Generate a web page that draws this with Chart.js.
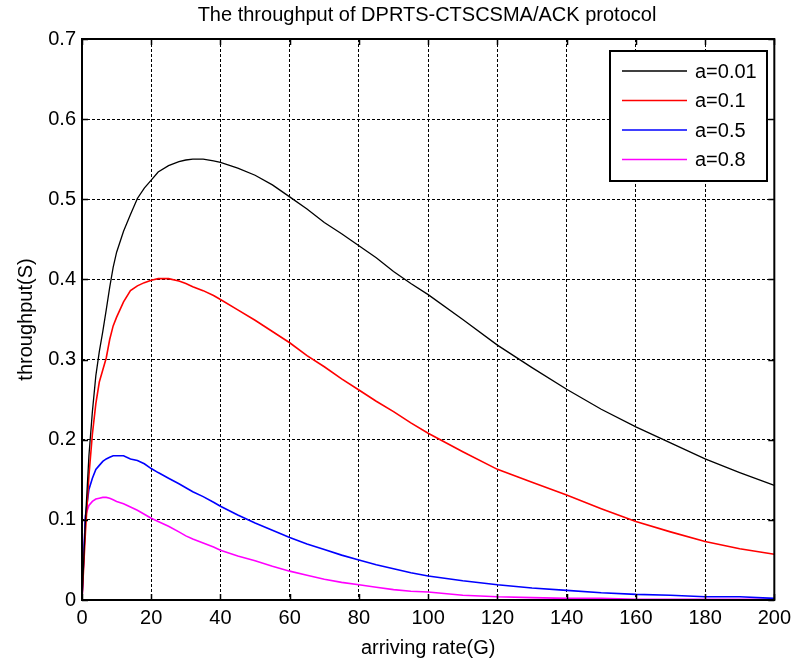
<!DOCTYPE html>
<html>
<head>
<meta charset="utf-8">
<title>The throughput of DPRTS-CTSCSMA/ACK protocol</title>
<script src="https://cdn.jsdelivr.net/npm/chart.js@4"></script>
<style>
    html, body { margin: 0; padding: 0; background: #fff; }
    #wrap { width: 797px; height: 664px; }
</style>
</head>
<body>
<div id="wrap"><canvas id="throughputChart" width="797" height="664"></canvas></div>
<script>
// arriving rate G (x values shared by every curve)
const rate = [0, 1, 2, 3, 4, 5, 6, 7, 8, 9, 10, 12, 14, 16, 18, 20, 22, 25, 28, 30, 32, 35, 38, 40,
    45, 50, 55, 60, 65, 70, 75, 80, 85, 90, 95, 100, 110, 120, 130, 140, 150, 160, 170, 180, 190, 200];

// throughput S, one list per value of a
const sA001 = [0, 0.100, 0.180, 0.235, 0.280, 0.310, 0.335, 0.362, 0.390, 0.415, 0.434, 0.460, 0.481, 0.501, 0.514, 0.524, 0.534, 0.542, 0.547, 0.549, 0.550, 0.550, 0.548, 0.546,
    0.539, 0.530, 0.518, 0.503, 0.488, 0.471, 0.457, 0.442, 0.427, 0.410, 0.395, 0.381, 0.350, 0.318, 0.290, 0.263, 0.238, 0.216, 0.196, 0.176, 0.159, 0.143];
const sA01 = [0, 0.085, 0.155, 0.207, 0.245, 0.272, 0.287, 0.302, 0.325, 0.342, 0.353, 0.372, 0.386, 0.392, 0.396, 0.399, 0.401, 0.401, 0.398, 0.395, 0.391, 0.386, 0.380, 0.375,
    0.362, 0.349, 0.335, 0.321, 0.305, 0.291, 0.276, 0.262, 0.248, 0.235, 0.221, 0.208, 0.185, 0.163, 0.147, 0.131, 0.114, 0.098, 0.085, 0.073, 0.064, 0.057];
const sA05 = [0, 0.105, 0.138, 0.152, 0.163, 0.168, 0.173, 0.176, 0.178, 0.180, 0.180, 0.180, 0.176, 0.174, 0.170, 0.164, 0.159, 0.152, 0.145, 0.140, 0.135, 0.129, 0.122, 0.117,
    0.106, 0.096, 0.087, 0.078, 0.070, 0.063, 0.056, 0.050, 0.044, 0.039, 0.034, 0.030, 0.024, 0.019, 0.015, 0.012, 0.009, 0.007, 0.006, 0.004, 0.004, 0.002];
const sA08 = [0, 0.105, 0.118, 0.123, 0.126, 0.127, 0.128, 0.128, 0.127, 0.125, 0.123, 0.120, 0.116, 0.112, 0.107, 0.102, 0.098, 0.092, 0.085, 0.080, 0.076, 0.071, 0.066, 0.062,
    0.055, 0.049, 0.042, 0.036, 0.031, 0.026, 0.022, 0.019, 0.016, 0.013, 0.011, 0.010, 0.006, 0.004, 0.003, 0.002, 0.002, 0.001, 0.001, 0.001, 0.001, 0.001];

const seriesLabels = ['a=0.01', 'a=0.1', 'a=0.5', 'a=0.8'];
const seriesColors = ['#000000', '#ff0000', '#0000ff', '#ff00ff'];
const seriesValues = [sA001, sA01, sA05, sA08];

const FONT = 'Arial, "Liberation Sans", sans-serif';

function toPoints(values) {
    return values.map((v, i) => ({ x: rate[i], y: v }));
}

// box, inward ticks, title and the boxed legend, MATLAB style
const matlabFrame = {
    id: 'matlabFrame',
    afterDraw(chart) {
        const ctx = chart.ctx;
        const a = chart.chartArea;
        const xs = chart.scales.x;
        const ys = chart.scales.y;
        ctx.save();

        // tick marks pointing inward
        ctx.strokeStyle = '#000';
        ctx.lineWidth = 1.5;
        xs.ticks.forEach(t => {
            const px = Math.round(xs.getPixelForValue(t.value)) + 0.5;
            ctx.beginPath();
            ctx.moveTo(px, a.bottom); ctx.lineTo(px, a.bottom - 6);
            ctx.moveTo(px, a.top); ctx.lineTo(px, a.top + 6);
            ctx.stroke();
        });
        ys.ticks.forEach(t => {
            const py = Math.round(ys.getPixelForValue(t.value)) + 0.5;
            ctx.beginPath();
            ctx.moveTo(a.left, py); ctx.lineTo(a.left + 6, py);
            ctx.moveTo(a.right, py); ctx.lineTo(a.right - 6, py);
            ctx.stroke();
        });

        // axes box
        ctx.lineWidth = 2;
        ctx.strokeRect(a.left, a.top, a.right - a.left, a.bottom - a.top);

        // title
        ctx.fillStyle = '#000';
        ctx.font = '20px ' + FONT;
        ctx.textAlign = 'center';
        ctx.textBaseline = 'middle';
        ctx.fillText('The throughput of DPRTS-CTSCSMA/ACK protocol', 427, 15);

        // legend
        const lx = 610, ly = 51, lw = 157, lh = 130;
        ctx.fillStyle = '#fff';
        ctx.fillRect(lx, ly, lw, lh);
        ctx.lineWidth = 2;
        ctx.strokeStyle = '#000';
        ctx.strokeRect(lx, ly, lw, lh);
        ctx.font = '20px ' + FONT;
        ctx.textAlign = 'left';
        chart.data.datasets.forEach((ds, i) => {
            const y = ly + 20 + i * 29.5;
            ctx.strokeStyle = ds.borderColor;
            ctx.lineWidth = ds.borderWidth;
            ctx.beginPath();
            ctx.moveTo(lx + 12, y); ctx.lineTo(lx + 77, y);
            ctx.stroke();
            ctx.fillStyle = '#000';
            ctx.fillText(ds.label, lx + 85, y + 1);
        });
        ctx.restore();
    }
};

const ctx = document.getElementById('throughputChart').getContext('2d');

new Chart(ctx, {
    type: 'line',
    data: {
        datasets: seriesValues.map((vals, i) => ({
            label: seriesLabels[i],
            data: toPoints(vals),
            borderColor: seriesColors[i],
            backgroundColor: seriesColors[i],
            borderWidth: i === 0 ? 1.3 : 1.6,
            pointRadius: 0,
            tension: 0,
            fill: false
        }))
    },
    options: {
        responsive: false,
        animation: false,
        layout: { padding: { top: 39, right: 21, left: 0, bottom: 0 } },
        plugins: {
            legend: { display: false },
            title: { display: false },
            tooltip: { enabled: false }
        },
        scales: {
            x: {
                type: 'linear',
                min: 0,
                max: 200,
                ticks: {
                    stepSize: 20,
                    padding: 6,
                    color: '#000',
                    font: { family: FONT, size: 20 },
                    maxRotation: 0
                },
                grid: { color: '#000', lineWidth: 1, drawTicks: false },
                border: { display: false, dash: [3, 2] },
                title: {
                    display: true,
                    text: 'arriving rate(G)',
                    color: '#000',
                    font: { family: FONT, size: 20 },
                    padding: { top: 0, bottom: 4 }
                },
                afterFit(scale) { scale.height = 64; }
            },
            y: {
                min: 0,
                max: 0.7,
                ticks: {
                    stepSize: 0.1,
                    padding: 6,
                    color: '#000',
                    font: { family: FONT, size: 20 },
                    callback: v => String(Number(v.toFixed(1)))
                },
                grid: { color: '#000', lineWidth: 1, drawTicks: false },
                border: { display: false, dash: [3, 2] },
                title: {
                    display: true,
                    text: 'throughput(S)',
                    color: '#000',
                    font: { family: FONT, size: 20 },
                    padding: { top: 14, bottom: 0 }
                },
                afterFit(scale) { scale.width = 82; }
            }
        }
    },
    plugins: [matlabFrame]
});
</script>
</body>
</html>
